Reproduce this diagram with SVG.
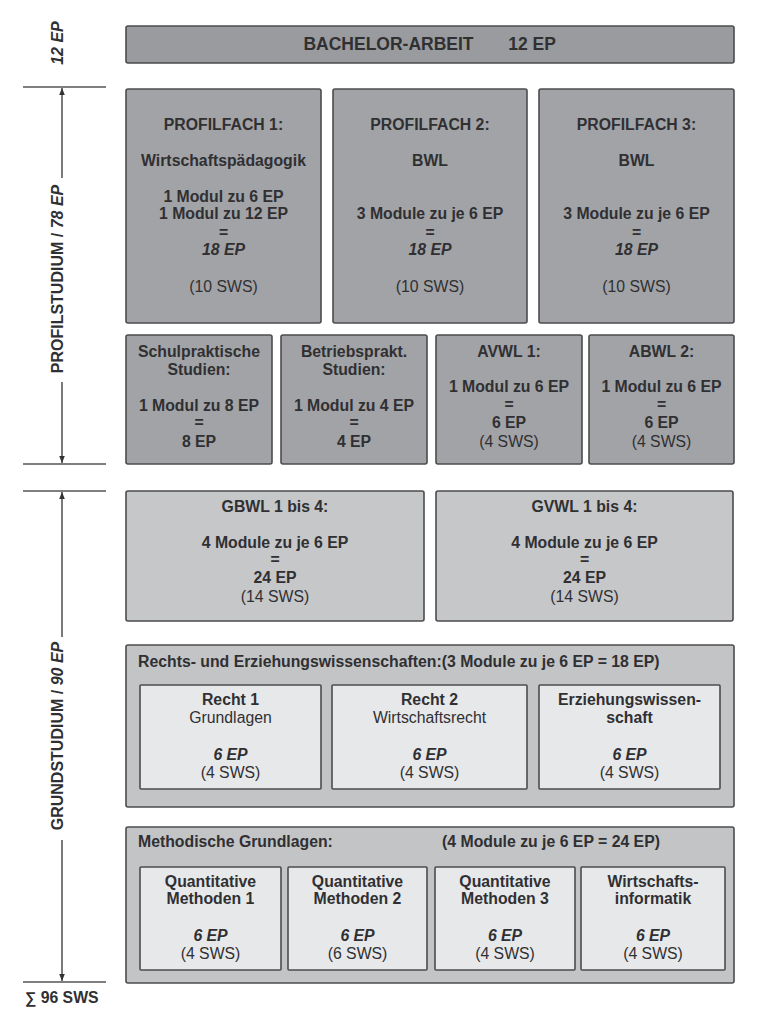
<svg xmlns="http://www.w3.org/2000/svg" width="768" height="1024" viewBox="0 0 768 1024">
<defs>
<style>
text{font-family:"Liberation Sans",Arial,Helvetica,sans-serif;font-size:15.8px;font-weight:bold;fill:#303033;text-anchor:middle}
.n{font-weight:normal}
.i{font-style:italic}
.l{text-anchor:start}
.big{font-size:17.5px}
.dark{fill:#a2a3a6;stroke:#4c4c4e;stroke-width:1.6}
.bach{fill:#9a9b9e;stroke:#4c4c4e;stroke-width:1.6}
.light{fill:#c6c7c9;stroke:#4c4c4e;stroke-width:1.6}
.cont{fill:#c3c4c6;stroke:#4c4c4e;stroke-width:1.6}
.inner{fill:#e7e8ea;stroke:#4c4c4e;stroke-width:1.6}
.ax{stroke:#555557;stroke-width:1.5;fill:none}
.ar{stroke:#333;stroke-width:1.3;fill:none}
.axt{font-size:16px;text-anchor:middle}
</style>
<marker id="ah" viewBox="0 0 10 10" refX="10" refY="5" markerWidth="7" markerHeight="7" orient="auto-start-reverse" markerUnits="userSpaceOnUse">
<path d="M0,1 L10,5 L0,9 Z" fill="#333"/>
</marker>
</defs>
<rect width="768" height="1024" fill="#ffffff"/>

<g id="axis">
<line class="ax" x1="23" y1="87" x2="106" y2="87"/>
<line class="ax" x1="23" y1="464" x2="106" y2="464"/>
<line class="ax" x1="23" y1="491" x2="106" y2="491"/>
<line class="ax" x1="23" y1="982" x2="106" y2="982"/>
</g>

<g id="connectors">
<line class="ar" x1="62" y1="178" x2="62" y2="88" marker-end="url(#ah)"/>
<line class="ar" x1="62" y1="382" x2="62" y2="463" marker-end="url(#ah)"/>
<line class="ar" x1="62" y1="637" x2="62" y2="492" marker-end="url(#ah)"/>
<line class="ar" x1="62" y1="840" x2="62" y2="981" marker-end="url(#ah)"/>
</g>

<g id="axis-labels">
<text class="axt i" transform="translate(63,43) rotate(-90)">12 EP</text>
<text class="axt" transform="translate(63,279) rotate(-90)">PROFILSTUDIUM / <tspan class="i">78 EP</tspan></text>
<text class="axt" transform="translate(63,736) rotate(-90)">GRUNDSTUDIUM / <tspan class="i">90 EP</tspan></text>
<text x="25" y="1003" class="l">∑ 96 SWS</text>
</g>

<g id="bachelor">
<rect class="bach" x="126" y="26" width="608" height="37" rx="2"/>
<text x="388.5" y="50" class="big">BACHELOR-ARBEIT</text>
<text x="532" y="50" class="big">12 EP</text>
</g>

<g id="profilfach1">
<rect class="dark" x="126" y="89" width="195" height="234" rx="2"/>
<text x="223.5" y="130">PROFILFACH 1:</text>
<text x="223.5" y="166">Wirtschaftspädagogik</text>
<text x="223.5" y="202">1 Modul zu 6 EP</text>
<text x="223.5" y="219">1 Modul zu 12 EP</text>
<text x="223.5" y="238">=</text>
<text x="223.5" y="255" class="i">18 EP</text>
<text x="223.5" y="292" class="n">(10 SWS)</text>
</g>

<g id="profilfach2">
<rect class="dark" x="333" y="89" width="194" height="234" rx="2"/>
<text x="430" y="130">PROFILFACH 2:</text>
<text x="430" y="166">BWL</text>
<text x="430" y="219">3 Module zu je 6 EP</text>
<text x="430" y="238">=</text>
<text x="430" y="255" class="i">18 EP</text>
<text x="430" y="292" class="n">(10 SWS)</text>
</g>

<g id="profilfach3">
<rect class="dark" x="539" y="89" width="195" height="234" rx="2"/>
<text x="636.5" y="130">PROFILFACH 3:</text>
<text x="636.5" y="166">BWL</text>
<text x="636.5" y="219">3 Module zu je 6 EP</text>
<text x="636.5" y="238">=</text>
<text x="636.5" y="255" class="i">18 EP</text>
<text x="636.5" y="292" class="n">(10 SWS)</text>
</g>

<g id="schulpraktische">
<rect class="dark" x="126" y="335" width="146" height="129" rx="2"/>
<text x="199" y="357">Schulpraktische</text>
<text x="199" y="375">Studien:</text>
<text x="199" y="411">1 Modul zu 8 EP</text>
<text x="199" y="428">=</text>
<text x="199" y="447">8 EP</text>
</g>

<g id="betriebsprakt">
<rect class="dark" x="281" y="335" width="146" height="129" rx="2"/>
<text x="354" y="357">Betriebsprakt.</text>
<text x="354" y="375">Studien:</text>
<text x="354" y="411">1 Modul zu 4 EP</text>
<text x="354" y="428">=</text>
<text x="354" y="447">4 EP</text>
</g>

<g id="avwl1">
<rect class="dark" x="436" y="335" width="146" height="129" rx="2"/>
<text x="509" y="357">AVWL 1:</text>
<text x="509" y="392">1 Modul zu 6 EP</text>
<text x="509" y="410">=</text>
<text x="509" y="428">6 EP</text>
<text x="509" y="447" class="n">(4 SWS)</text>
</g>

<g id="abwl2">
<rect class="dark" x="589" y="335" width="145" height="129" rx="2"/>
<text x="661.5" y="357">ABWL 2:</text>
<text x="661.5" y="392">1 Modul zu 6 EP</text>
<text x="661.5" y="410">=</text>
<text x="661.5" y="428">6 EP</text>
<text x="661.5" y="447" class="n">(4 SWS)</text>
</g>

<g id="gbwl">
<rect class="light" x="126" y="491" width="298" height="130" rx="2"/>
<text x="275" y="512">GBWL 1 bis 4:</text>
<text x="275" y="548">4 Module zu je 6 EP</text>
<text x="275" y="565">=</text>
<text x="275" y="583">24 EP</text>
<text x="275" y="602" class="n">(14 SWS)</text>
</g>

<g id="gvwl">
<rect class="light" x="436" y="491" width="297" height="130" rx="2"/>
<text x="584.5" y="512">GVWL 1 bis 4:</text>
<text x="584.5" y="548">4 Module zu je 6 EP</text>
<text x="584.5" y="565">=</text>
<text x="584.5" y="583">24 EP</text>
<text x="584.5" y="602" class="n">(14 SWS)</text>
</g>

<g id="rechts-erziehung">
<rect class="cont" x="126" y="645" width="608" height="162" rx="2"/>
<text x="138" y="667" class="l">Rechts- und Erziehungswissenschaften:(3 Module zu je 6 EP = 18 EP)</text>
</g>

<g id="recht1">
<rect class="inner" x="140" y="685" width="181" height="104" rx="1"/>
<text x="230.5" y="705">Recht 1</text>
<text x="230.5" y="723" class="n">Grundlagen</text>
<text x="230.5" y="760" class="i">6 EP</text>
<text x="230.5" y="778" class="n">(4 SWS)</text>
</g>

<g id="recht2">
<rect class="inner" x="332" y="685" width="195" height="104" rx="1"/>
<text x="429.5" y="705">Recht 2</text>
<text x="429.5" y="723" class="n">Wirtschaftsrecht</text>
<text x="429.5" y="760" class="i">6 EP</text>
<text x="429.5" y="778" class="n">(4 SWS)</text>
</g>

<g id="erziehungswissenschaft">
<rect class="inner" x="539" y="685" width="181" height="104" rx="1"/>
<text x="629.5" y="705">Erziehungswissen-</text>
<text x="629.5" y="723">schaft</text>
<text x="629.5" y="760" class="i">6 EP</text>
<text x="629.5" y="778" class="n">(4 SWS)</text>
</g>

<g id="methodische">
<rect class="cont" x="126" y="827" width="608" height="156" rx="2"/>
<text x="138" y="847" class="l">Methodische Grundlagen:</text>
<text x="551" y="847">(4 Module zu je 6 EP = 24 EP)</text>
</g>

<g id="qm1">
<rect class="inner" x="140" y="867" width="141" height="103" rx="1"/>
<text x="210.5" y="887">Quantitative</text>
<text x="210.5" y="904">Methoden 1</text>
<text x="210.5" y="941" class="i">6 EP</text>
<text x="210.5" y="959" class="n">(4 SWS)</text>
</g>

<g id="qm2">
<rect class="inner" x="288" y="867" width="139" height="103" rx="1"/>
<text x="357.5" y="887">Quantitative</text>
<text x="357.5" y="904">Methoden 2</text>
<text x="357.5" y="941" class="i">6 EP</text>
<text x="357.5" y="959" class="n">(6 SWS)</text>
</g>

<g id="qm3">
<rect class="inner" x="435" y="867" width="140" height="103" rx="1"/>
<text x="505" y="887">Quantitative</text>
<text x="505" y="904">Methoden 3</text>
<text x="505" y="941" class="i">6 EP</text>
<text x="505" y="959" class="n">(4 SWS)</text>
</g>

<g id="wirtschaftsinformatik">
<rect class="inner" x="581" y="867" width="144" height="103" rx="1"/>
<text x="653" y="887">Wirtschafts-</text>
<text x="653" y="904">informatik</text>
<text x="653" y="941" class="i">6 EP</text>
<text x="653" y="959" class="n">(4 SWS)</text>
</g>
</svg>
